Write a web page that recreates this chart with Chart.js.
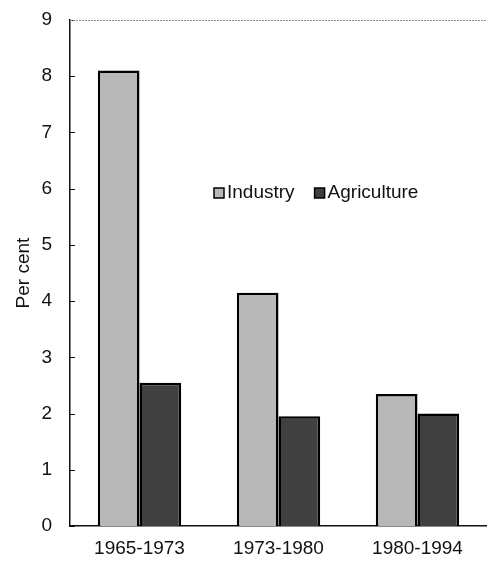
<!DOCTYPE html>
<html>
<head>
<meta charset="utf-8">
<script src="https://cdn.jsdelivr.net/npm/chart.js@4.4.1/dist/chart.umd.min.js"></script>
<style>
  html, body { margin: 0; padding: 0; background: #fff; }
  #wrap { width: 487px; height: 562px; }
</style>
</head>
<body>
<div id="wrap"><canvas id="chart"></canvas></div>
<script>
// Growth rates by period.
const periods = ['1965-1973', '1973-1980', '1980-1994'];
const industry = [8.1, 4.15, 2.35];
const agriculture = [2.55, 1.95, 2.0];
const yTicks = [0, 1, 2, 3, 4, 5, 6, 7, 8, 9];

const FONT = { family: 'Liberation Sans, Arial, sans-serif', size: 19 };

// Small inward ticks on the y axis, faint top border, legend inside the plot.
const framePlugin = {
  id: 'frame',
  afterDraw(chart) {
    const { ctx, chartArea: a, scales } = chart;
    ctx.save();
    ctx.strokeStyle = '#111';
    ctx.lineWidth = 1;
    yTicks.forEach((v) => {
      const y = Math.round(scales.y.getPixelForValue(v)) + 0.5;
      ctx.beginPath();
      ctx.moveTo(a.left, y);
      ctx.lineTo(a.left + 5, y);
      ctx.stroke();
    });
    ctx.strokeStyle = '#888';
    ctx.setLineDash([2, 1]);
    ctx.beginPath();
    ctx.moveTo(a.left, a.top + 0.5);
    ctx.lineTo(a.right, a.top + 0.5);
    ctx.stroke();
    ctx.setLineDash([]);

    // legend
    const items = chart.data.datasets.map((d) => ({ label: d.label, color: d.backgroundColor }));
    let x = 214;
    const y = 193;
    ctx.font = `${FONT.size}px ${FONT.family}`;
    ctx.textBaseline = 'middle';
    items.forEach((it) => {
      ctx.fillStyle = it.color;
      ctx.fillRect(x, y - 5, 10, 10);
      ctx.strokeStyle = '#000';
      ctx.lineWidth = 1.5;
      ctx.strokeRect(x, y - 5, 10, 10);
      ctx.fillStyle = '#111';
      ctx.fillText(it.label, x + 13, y);
      x += 13 + ctx.measureText(it.label).width + 20;
    });
    ctx.restore();
  },
};

new Chart(document.getElementById('chart'), {
  type: 'bar',
  data: {
    labels: periods,
    datasets: [
      {
        label: 'Industry',
        data: industry,
        backgroundColor: '#b8b8b8',
        borderColor: '#000',
        borderWidth: 2.5,
      },
      {
        label: 'Agriculture',
        data: agriculture,
        backgroundColor: '#404040',
        borderColor: '#000',
        borderWidth: 2.5,
      },
    ],
  },
  options: {
    responsive: true,
    maintainAspectRatio: false,
    animation: false,
    layout: { padding: { top: 20, right: 0, left: 0, bottom: 0 } },
    plugins: {
      legend: { display: false },
      tooltip: { enabled: false },
    },
    datasets: {
      bar: { categoryPercentage: 0.6, barPercentage: 1.0 },
    },
    scales: {
      x: {
        grid: { display: false, drawTicks: false },
        border: { color: '#111', width: 1.5 },
        ticks: { color: '#111', font: FONT, padding: 11, maxRotation: 0 },
        afterFit: (s) => { s.height = 36; s.paddingLeft = 0; s.paddingRight = 0; },
      },
      y: {
        min: 0,
        max: 9,
        afterBuildTicks: (s) => { s.ticks = yTicks.map((v) => ({ value: v })); },
        grid: { display: false, drawTicks: false },
        border: { color: '#111', width: 1.5 },
        ticks: { color: '#111', font: FONT, padding: 18 },
        title: { display: true, text: 'Per cent', color: '#111', font: FONT, padding: { top: 12, bottom: 0 } },
        afterFit: (s) => { s.width = 70; s.paddingTop = 0; s.paddingBottom = 0; },
      },
    },
  },
  plugins: [framePlugin],
});
</script>
</body>
</html>
